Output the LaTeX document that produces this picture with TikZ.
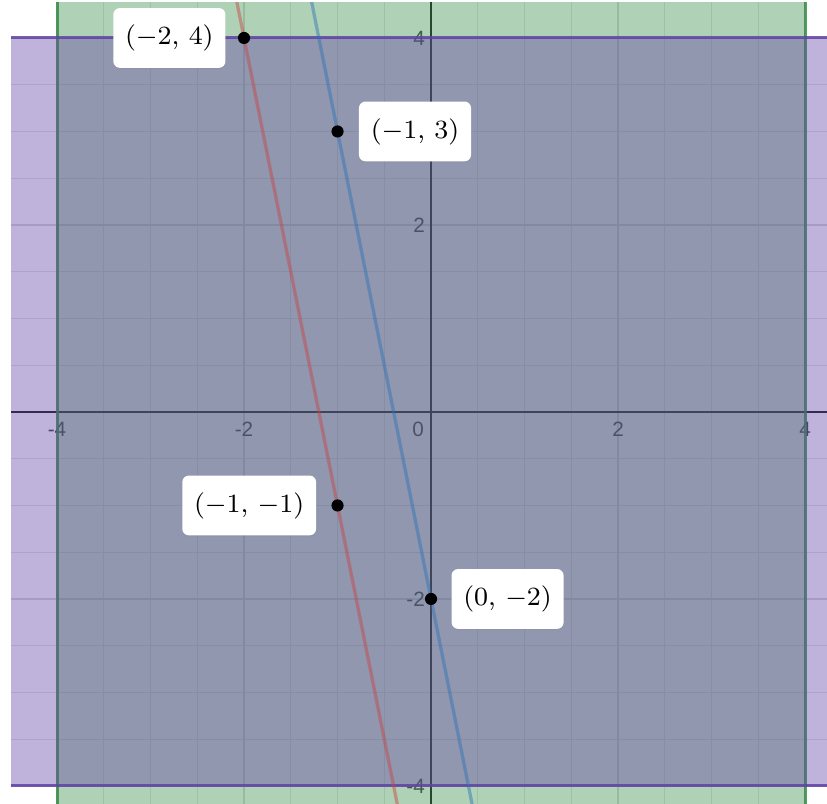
\documentclass[tikz,border=0pt]{standalone}
\usepackage{fontspec}
\newfontfamily\tickfont{Liberation Sans}
\usepackage{tikz}
\usetikzlibrary{positioning, shadows}
\definecolor{dgreen}{HTML}{388C46}
\definecolor{dpurple}{HTML}{6042A6}
\definecolor{dred}{HTML}{C74440}
\definecolor{dblue}{HTML}{2D70B3}

\begin{document}
\begin{tikzpicture}[
      x=1cm, y=1cm,
      minorgrid/.style={draw=black!10, line width=0.3pt},
      majorgrid/.style={draw=black!15, line width=0.35pt},
      axisline/.style={draw=black!90, line width=0.6pt},
      ticklbl/.style={font=\tickfont\fontsize{6.3}{7}\selectfont, text=black!75,
                      inner sep=0pt},
      band/.style={fill opacity=0.4},
      edge/.style={line width=0.9pt, draw opacity=0.85},
      fnline/.style={line width=1pt, draw opacity=0.45},
      dot/.style={circle, fill=black, inner sep=0pt, minimum size=0.13cm},
      lbl/.style={rectangle, fill=white, rounded corners=2pt,
                  minimum height=0.64cm, inner xsep=3.6pt,
                  font=\fontsize{8.4}{10}\selectfont,
                  drop shadow={opacity=0.15, shadow xshift=0pt, shadow yshift=-0.4pt}}
    ]
    \useasboundingbox (-4.610,-4.192) rectangle (4.235,4.406);

    \begin{scope}
      \clip (-4.492,-4.192) rectangle (4.235,4.374);

      % Grid and axes
      \draw[minorgrid] (-5,-5) grid[step=0.5] (5,5);
      \draw[majorgrid] (-6,-6) grid[step=2] (6,6);
      \draw[axisline] (-5,0) -- (5,0);
      \draw[axisline] (0,-5) -- (0,5);

      % Tick labels
      \foreach \t in {-4,-2,2,4} {
        \node[ticklbl, anchor=north] (xt\t) at (\t,-0.1) {\t};
        \node[ticklbl, anchor=east] (yt\t) at (-0.06,\t) {\t};
      }
      \node[ticklbl, anchor=north east] (origin) at (-0.07,-0.1) {0};

      % Shaded bands
      \fill[dgreen, band] (-4,-5) rectangle (4,5);
      \draw[dgreen, edge] (-4,-5) -- (-4,5);
      \draw[dgreen, edge] (4,-5) -- (4,5);
      \fill[dpurple, band] (-5,-4) rectangle (5,4);
      \draw[dpurple, edge] (-5,-4) -- (5,-4);
      \draw[dpurple, edge] (-5,4) -- (5,4);

      % Lines
      \draw[dred, fnline] (-2.1,4.5) -- (-0.3,-4.5);
      \draw[dblue, fnline] (-1.3,4.5) -- (0.5,-4.5);
    \end{scope}

    % Points
    \node[dot] (pa) at (-2,4) {};
    \node[dot] (pb) at (-1,3) {};
    \node[dot] (pc) at (-1,-1) {};
    \node[dot] (pd) at (0,-2) {};

    \node[lbl, left=0.12cm of pa] (la) {$(-2,\,4)$};
    \node[lbl, right=0.15cm of pb] (lb) {$(-1,\,3)$};
    \node[lbl, left=0.15cm of pc] (lc) {$(-1,\,-1)$};
    \node[lbl, right=0.14cm of pd] (ld) {$(0,\,-2)$};
  \end{tikzpicture}
\end{document}
